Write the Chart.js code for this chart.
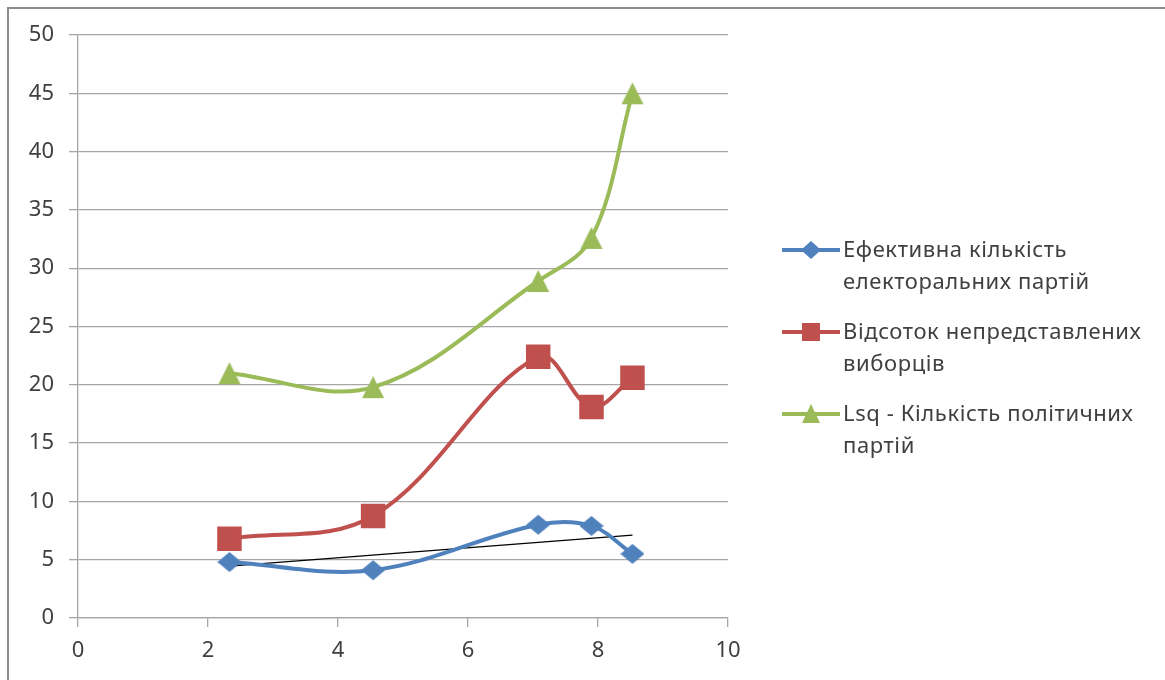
<!DOCTYPE html>
<html>
<head>
<meta charset="utf-8">
<script src="https://cdn.jsdelivr.net/npm/chart.js@4"></script>
<style>
  html, body { margin: 0; padding: 0; background: #fff; }
  #wrap { position: relative; width: 1165px; height: 680px; overflow: hidden; }
  #frame { position: absolute; left: 7px; top: 7px; right: -10px; bottom: -10px;
           border-top: 2px solid #8c8c8c; border-left: 2px solid #8c8c8c; }
  #cv { position: absolute; left: 0; top: 0; }
  .leg { position: absolute; left: 782px; font-family: "Noto Sans", sans-serif;
         font-size: 22px; letter-spacing: 0.6px; color: #404040; line-height: 32px; }
  .leg svg { position: absolute; left: 0; top: 0; }
  .leg .txt { position: absolute; left: 61px; top: -1px; white-space: nowrap; }
</style>
</head>
<body>
<div id="wrap">
  <div id="frame"></div>
  <canvas id="cv" width="1165" height="680"></canvas>
  <div id="legend"></div>
</div>
<script>
// ---- data ----
const xValues = [2.33, 4.54, 7.08, 7.9, 8.53];
const effectiveParties = [4.8, 4.1, 8.0, 7.9, 5.5];
const unrepresentedVoters = [6.8, 8.75, 22.4, 18.1, 20.6];
const lsqParties = [21.0, 19.8, 28.9, 32.6, 45.0];
const trendX = [2.33, 8.53];
const trendY = [4.45, 7.1];
const seriesNames = [
  ["Ефективна  кількість", "електоральних  партій"],
  ["Відсоток непредставлених", "виборців"],
  ["Lsq - Кількість політичних", "партій"]
];
const xTicks = [0, 2, 4, 6, 8, 10];
const yTicks = [0, 5, 10, 15, 20, 25, 30, 35, 40, 45, 50];

const colors = ["#4F81BD", "#C0504D", "#9BBB59"];
const toPts = (xs, ys) => xs.map((x, i) => ({ x: x, y: ys[i] }));

const gridGray = "#a6a6a6";
const tickFont = { family: "Noto Sans", size: 22 };

// marker images centred on their bounding box (like Excel)
function markerCanvas(kind, color) {
  const c = document.createElement("canvas");
  const w = 24, h = 24;
  c.width = w; c.height = h;
  const g = c.getContext("2d");
  g.fillStyle = color;
  g.beginPath();
  if (kind === "tri") {
    g.moveTo(w / 2, 1); g.lineTo(w - 1, h - 1); g.lineTo(1, h - 1);
  } else {
    g.moveTo(w / 2, 2); g.lineTo(w, h / 2); g.lineTo(w / 2, h - 2); g.lineTo(0, h / 2);
  }
  g.closePath();
  g.fill();
  return c;
}

new Chart(document.getElementById("cv"), {
  type: "line",
  data: {
    datasets: [
      { label: seriesNames[0].join(" "), data: toPts(xValues, effectiveParties),
        borderColor: colors[0], backgroundColor: colors[0], borderWidth: 4,
        pointStyle: markerCanvas("dia", colors[0]), pointRadius: 10, pointHoverRadius: 10, tension: 0.36 },
      { label: seriesNames[1].join(" "), data: toPts(xValues, unrepresentedVoters),
        borderColor: colors[1], backgroundColor: colors[1], borderWidth: 4,
        pointStyle: "rect", pointRadius: 14.5, pointHoverRadius: 14.5, tension: 0.36 },
      { label: seriesNames[2].join(" "), data: toPts(xValues, lsqParties),
        borderColor: colors[2], backgroundColor: colors[2], borderWidth: 4,
        pointStyle: markerCanvas("tri", colors[2]), pointRadius: 11, pointHoverRadius: 11, tension: 0.36 },
      { label: "trend", data: toPts(trendX, trendY),
        borderColor: "#000", borderWidth: 1.3, pointRadius: 0, tension: 0 }
    ]
  },
  options: {
    responsive: false,
    animation: false,
    events: [],
    layout: { padding: { top: 35, right: 437, left: 0, bottom: 0 } },
    plugins: { legend: { display: false }, tooltip: { enabled: false } },
    scales: {
      x: {
        type: "linear", min: 0, max: 10,
        afterBuildTicks: s => { s.ticks = xTicks.map(v => ({ value: v })); },
        afterFit: s => { s.height = 62; },
        grid: { drawOnChartArea: false, drawTicks: true, tickLength: 9, color: gridGray, lineWidth: 1.3 },
        border: { color: gridGray, width: 1.3 },
        ticks: { font: tickFont, color: "#404040", padding: 11, maxRotation: 0 }
      },
      y: {
        type: "linear", min: 0, max: 50,
        afterBuildTicks: s => { s.ticks = yTicks.map(v => ({ value: v })); },
        afterFit: s => { s.width = 78; },
        grid: { drawTicks: true, tickLength: 9, color: gridGray, lineWidth: 1.3 },
        border: { color: gridGray, width: 1.3 },
        ticks: { font: tickFont, color: "#404040", padding: 15 }
      }
    }
  }
});

// ---- HTML legend ----
const legTops = [233, 315, 397];
const markerSvg = [
  c => `<polygon points="29,8 39,17 29,26 19,17" fill="${c}"/>`,
  c => `<rect x="20" y="8" width="18" height="18" fill="${c}"/>`,
  c => `<polygon points="29,7 38,26 20,26" fill="${c}"/>`
];
const legend = document.getElementById("legend");
seriesNames.forEach((lines, i) => {
  const d = document.createElement("div");
  d.className = "leg";
  d.style.top = legTops[i] + "px";
  d.innerHTML =
    `<svg width="60" height="34"><line x1="0" y1="17" x2="58" y2="17" stroke="${colors[i]}" stroke-width="4"/>${markerSvg[i](colors[i])}</svg>` +
    `<div class="txt">${lines.join("<br>")}</div>`;
  legend.appendChild(d);
});
</script>
</body>
</html>
